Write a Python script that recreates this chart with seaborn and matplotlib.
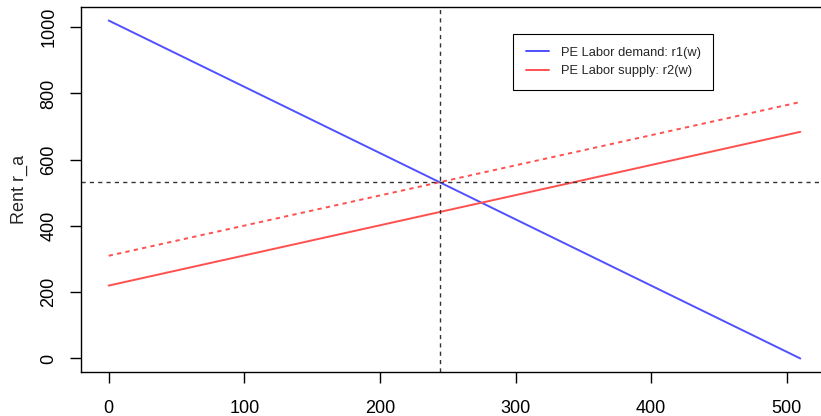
import matplotlib
matplotlib.use("Agg")
import matplotlib.pyplot as plt
import pandas as pd
import seaborn as sns

# ---- data ----
wage = [0, 510]
demand_r1 = [1020, 0]          # PE Labor demand: r1(w)
supply_r2 = [220, 684]         # PE Labor supply: r2(w)
supply_r2_shift = [310, 774]   # shifted supply (dotted)
w_eq = 244
r_eq = 532

df = pd.DataFrame({"w": wage, "r1": demand_r1, "r2": supply_r2, "r2s": supply_r2_shift})

sns.set_style("ticks")
plt.rcParams["font.family"] = ["Liberation Sans", "DejaVu Sans"]

fig = plt.figure(figsize=(8.21, 4.16), dpi=100)
ax = fig.add_axes([81 / 821, 44 / 416, 747 / 821, 365 / 416])

blue = "#5050ff"
red = "#ff5050"

sns.lineplot(data=df, x="w", y="r1", color=blue, lw=1.4, ax=ax, label="PE Labor demand: r1(w)")
sns.lineplot(data=df, x="w", y="r2", color=red, lw=1.4, ax=ax, label="PE Labor supply: r2(w)")
sns.lineplot(data=df, x="w", y="r2s", color=red, lw=1.4, ax=ax, linestyle=(0, (2.2, 2.2)))

ax.axvline(w_eq, color="#333333", lw=1.0, linestyle=(0, (3, 3)))
ax.axhline(r_eq, color="#333333", lw=1.0, linestyle=(0, (3, 3)))

ax.set_xlim(-20.4, 530.4)
ax.set_ylim(-40.8, 1060.8)
ax.set_xticks([0, 100, 200, 300, 400, 500])
ax.set_yticks([0, 200, 400, 600, 800, 1000])
ax.set_yticklabels(["0", "200", "400", "600", "800", "1000"], rotation=90, va="center")
ax.tick_params(axis="both", labelsize=13, length=8, width=1, direction="out", colors="black")
ax.tick_params(axis="x", pad=12)
ax.tick_params(axis="y", pad=9)
ax.set_xlabel("")
ax.set_ylabel("Rent r_a", fontsize=13, labelpad=9)

for side in ["left", "right", "top", "bottom"]:
    ax.spines[side].set_visible(True)
    ax.spines[side].set_color("black")
    ax.spines[side].set_linewidth(1.0)

leg = ax.legend(loc="upper left", bbox_to_anchor=(0.578, 0.926), borderaxespad=0,
                fontsize=9.3, frameon=True, fancybox=False, edgecolor="black",
                framealpha=1, handlelength=1.8, handletextpad=0.9,
                borderpad=1.0, labelspacing=0.5)
leg.get_frame().set_linewidth(0.8)

fig.savefig("out.png", dpi=100)
plt.close(fig)
